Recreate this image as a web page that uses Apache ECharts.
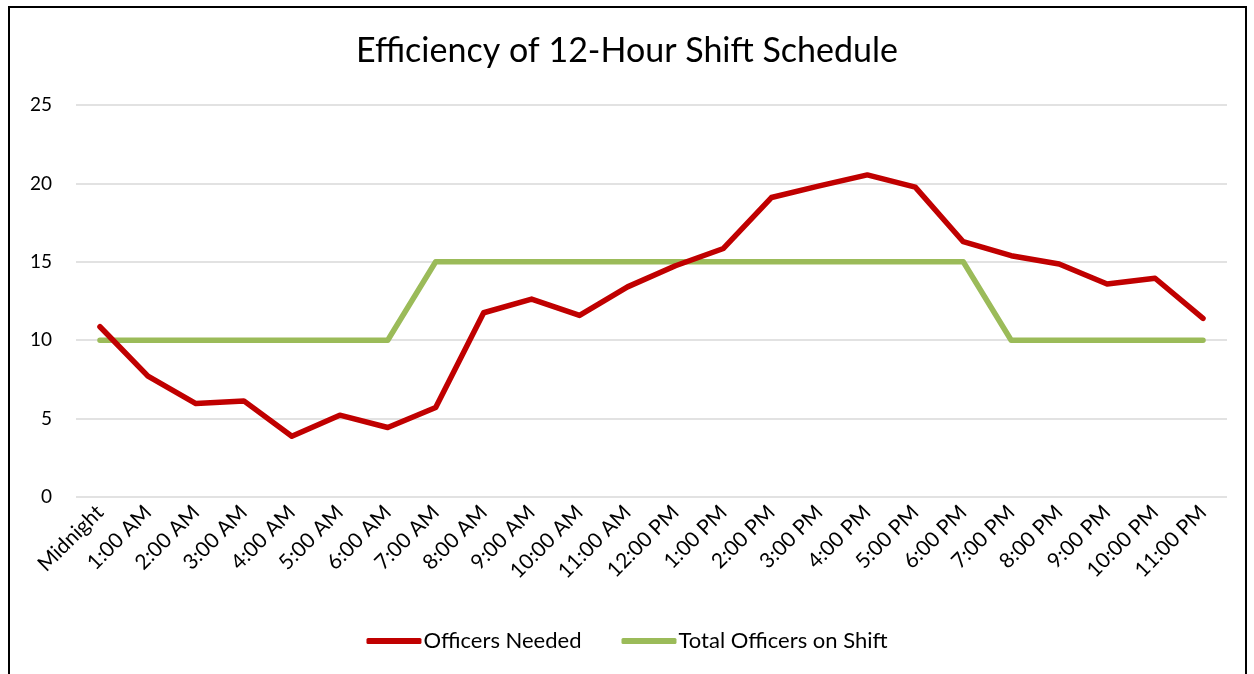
<!DOCTYPE html>
<html>
<head>
<meta charset="utf-8">
<script src="https://cdn.jsdelivr.net/npm/echarts@6/dist/echarts.min.js"></script>
<style>
  html, body { margin: 0; padding: 0; background: #fff; overflow: hidden; }
  #frame { position: absolute; left: 8px; top: 6px; width: 1239px; height: 700px; border: 2px solid #000; box-sizing: border-box; }
  #main { position: absolute; left: 0; top: 0; width: 1254px; height: 674px; }
</style>
</head>
<body>
<div id="frame"></div>
<div id="main"></div>
<script>
// hour labels on the x axis
const hours = ['Midnight', '1:00 AM', '2:00 AM', '3:00 AM', '4:00 AM', '5:00 AM', '6:00 AM',
  '7:00 AM', '8:00 AM', '9:00 AM', '10:00 AM', '11:00 AM', '12:00 PM', '1:00 PM', '2:00 PM',
  '3:00 PM', '4:00 PM', '5:00 PM', '6:00 PM', '7:00 PM', '8:00 PM', '9:00 PM', '10:00 PM', '11:00 PM'];

const officersNeeded = [10.86, 7.71, 5.96, 6.13, 3.88, 5.22, 4.43, 5.71, 11.75, 12.62, 11.58, 13.4,
  14.75, 15.85, 19.1, 19.84, 20.54, 19.76, 16.28, 15.39, 14.86, 13.58, 13.95, 11.39];

const officersOnShift = [10, 10, 10, 10, 10, 10, 10, 15, 15, 15, 15, 15,
  15, 15, 15, 15, 15, 15, 15, 10, 10, 10, 10, 10];

const yTicks = [0, 5, 10, 15, 20, 25];

const font = 'Lato, "Liberation Sans", sans-serif';

let myChart = echarts.init(document.getElementById('main'));
myChart.setOption({
  animation: false,
  title: {
    text: 'Efficiency of 12-Hour Shift Schedule',
    left: 'center',
    top: 29,
    textStyle: { fontFamily: font, fontSize: 34, fontWeight: 'normal', color: '#000' }
  },
  legend: {
    bottom: 17,
    left: 'center',
    itemWidth: 55,
    itemHeight: 6,
    itemGap: 40,
    icon: 'roundRect',
    textStyle: { fontFamily: font, fontSize: 22, color: '#000', padding: [0, 0, 0, -3] },
    data: ['Officers Needed', 'Total Officers on Shift']
  },
  grid: { left: 76, right: 27, top: 105, bottom: 177, containLabel: false },
  xAxis: {
    type: 'category',
    data: hours,
    boundaryGap: true,
    axisLine: { show: false },
    axisTick: { show: false },
    axisLabel: {
      rotate: 45,
      interval: 0,
      margin: 12,
      fontFamily: font,
      fontSize: 21,
      color: '#000'
    }
  },
  yAxis: {
    type: 'value',
    min: yTicks[0],
    max: yTicks[yTicks.length - 1],
    interval: 5,
    axisLine: { show: false },
    axisTick: { show: false },
    axisLabel: { margin: 24, fontFamily: font, fontSize: 19, color: '#000' },
    splitLine: { lineStyle: { color: '#d9d9d9', width: 1.5 } }
  },
  series: [
    {
      name: 'Officers Needed',
      type: 'line',
      data: officersNeeded,
      symbol: 'none',
      itemStyle: { color: '#c00000' },
      lineStyle: { color: '#c00000', width: 5.5, cap: 'round', join: 'round' }
    },
    {
      name: 'Total Officers on Shift',
      type: 'line',
      data: officersOnShift,
      symbol: 'none',
      z: 1,
      itemStyle: { color: '#9bbb59' },
      lineStyle: { color: '#9bbb59', width: 5.5, cap: 'round', join: 'round' }
    }
  ]
});
</script>
</body>
</html>
